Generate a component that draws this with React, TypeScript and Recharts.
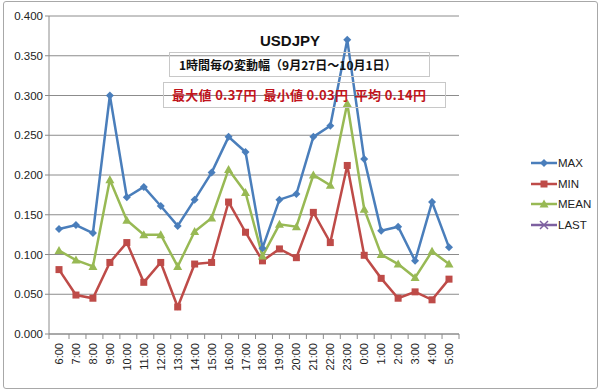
import { LineChart, Line, XAxis, YAxis, CartesianGrid, Legend } from "recharts";

const hours = [
  "6:00", "7:00", "8:00", "9:00", "10:00", "11:00", "12:00", "13:00", "14:00", "15:00", "16:00", "17:00",
  "18:00", "19:00", "20:00", "21:00", "22:00", "23:00", "0:00", "1:00", "2:00", "3:00", "4:00", "5:00",
];
const maxVals = [0.132, 0.137, 0.127, 0.3, 0.172, 0.185, 0.161, 0.136, 0.169, 0.203, 0.248, 0.229,
  0.108, 0.169, 0.176, 0.248, 0.262, 0.37, 0.22, 0.13, 0.135, 0.092, 0.166, 0.109];
const minVals = [0.081, 0.049, 0.045, 0.09, 0.115, 0.065, 0.09, 0.034, 0.088, 0.09, 0.166, 0.128,
  0.092, 0.107, 0.096, 0.153, 0.115, 0.212, 0.099, 0.07, 0.045, 0.053, 0.043, 0.069];
const meanVals = [0.105, 0.093, 0.085, 0.194, 0.143, 0.125, 0.125, 0.085, 0.129, 0.146, 0.207, 0.178,
  0.098, 0.138, 0.135, 0.2, 0.187, 0.29, 0.157, 0.1, 0.088, 0.071, 0.104, 0.088];
const yTicks = [0, 0.05, 0.1, 0.15, 0.2, 0.25, 0.3, 0.35, 0.4];

const data = hours.map((h, i) => ({
  hour: h,
  MAX: maxVals[i],
  MIN: minVals[i],
  MEAN: meanVals[i],
  LAST: null as number | null,
}));

const BLUE = "#4a7ebb";
const RED = "#be4b48";
const GREEN = "#98b954";
const PURPLE = "#7d60a0";
const GRID = "#8c8c8c";
const FONT = "'Liberation Sans', Arial, sans-serif";
const JP = "'Noto Sans CJK JP', sans-serif";

function Diamond({ cx, cy, c }: any) {
  if (cx == null || cy == null) return null;
  return <path d={`M${cx},${cy - 4} L${cx + 4},${cy} L${cx},${cy + 4} L${cx - 4},${cy} Z`} fill={c} />;
}
function Square({ cx, cy, c }: any) {
  if (cx == null || cy == null) return null;
  return <rect x={cx - 3.5} y={cy - 3.5} width={7} height={7} fill={c} />;
}
function Tri({ cx, cy, c }: any) {
  if (cx == null || cy == null) return null;
  return <path d={`M${cx},${cy - 4.5} L${cx + 4.5},${cy + 3.5} L${cx - 4.5},${cy + 3.5} Z`} fill={c} />;
}
function Cross({ cx, cy, c }: any) {
  if (cx == null || cy == null) return null;
  return (
    <path d={`M${cx - 4},${cy - 4} L${cx + 4},${cy + 4} M${cx + 4},${cy - 4} L${cx - 4},${cy + 4}`} stroke={c} strokeWidth={1.5} />
  );
}

const legendItems = [
  { name: "MAX", c: BLUE, M: Diamond },
  { name: "MIN", c: RED, M: Square },
  { name: "MEAN", c: GREEN, M: Tri },
  { name: "LAST", c: PURPLE, M: Cross },
];

function LegendBox() {
  return (
    <div>
      {legendItems.map(({ name, c, M }) => (
        <div key={name} style={{ display: "flex", alignItems: "center", height: 20.5 }}>
          <svg width={26} height={12}>
            <line x1={0} y1={6} x2={26} y2={6} stroke={c} strokeWidth={2.5} />
            <M cx={13} cy={6} c={c} />
          </svg>
          <span style={{ fontFamily: FONT, fontSize: 11.5, color: "#222", marginLeft: 1 }}>{name}</span>
        </div>
      ))}
    </div>
  );
}

function HourTick({ x, y, payload, index }: any) {
  return (
    <g>
      <line x1={x + 10} y1={y - 8} x2={x + 10} y2={y - 3} stroke={GRID} />
      {index === 0 && <line x1={x - 10} y1={y - 8} x2={x - 10} y2={y - 3} stroke={GRID} />}
      <text
        x={x}
        y={y}
        transform={`rotate(-90 ${x} ${y})`}
        textAnchor="end"
        dx={-1}
        dy={4}
        fontSize={11}
        fontFamily={FONT}
        fill="#222"
      >
        {payload.value}
      </text>
    </g>
  );
}

export default function App() {
  return (
    <div style={{ position: "fixed", left: 0, top: 0, width: 600, height: 391, background: "#fff" }}>
      <div
        style={{
          position: "absolute", left: 3, top: 1, width: 593, height: 386,
          border: "1px solid #a8a8a8", borderRadius: 3,
        }}
      />
      <LineChart width={600} height={391} data={data} margin={{ top: 16, right: 71, left: 0, bottom: 0 }}>
        <CartesianGrid vertical={false} stroke={GRID} strokeDasharray="" />
        <XAxis
          dataKey="hour"
          interval={0}
          padding={{ left: 10, right: 10 }}
          height={57}
          tickLine={false}
          axisLine={{ stroke: GRID }}
          tick={<HourTick />}
        />
        <YAxis
          width={49}
          domain={[0, 0.4]}
          ticks={yTicks}
          tickFormatter={(v: number) => v.toFixed(3)}
          tick={{ fontSize: 11.5, fontFamily: FONT, fill: "#222" }}
          tickLine={{ stroke: GRID }}
          tickSize={4}
          axisLine={{ stroke: GRID }}
        />
        <Legend
          layout="vertical"
          align="right"
          verticalAlign="top"
          wrapperStyle={{ left: 531, top: 153, width: 70 }}
          content={() => <LegendBox />}
        />
        <Line dataKey="MAX" stroke={BLUE} strokeWidth={2.5} dot={<Diamond c={BLUE} />} isAnimationActive={false} />
        <Line dataKey="MIN" stroke={RED} strokeWidth={2.5} dot={<Square c={RED} />} isAnimationActive={false} />
        <Line dataKey="MEAN" stroke={GREEN} strokeWidth={2.5} dot={<Tri c={GREEN} />} isAnimationActive={false} />
        <Line dataKey="LAST" stroke={PURPLE} strokeWidth={2.5} dot={<Cross c={PURPLE} />} isAnimationActive={false} />
      </LineChart>
      <div
        style={{
          position: "absolute", left: 0, top: 32, width: 580, textAlign: "center",
          fontFamily: FONT, fontWeight: "bold", fontSize: 15, color: "#111",
        }}
      >
        USDJPY
      </div>
      <div
        style={{
          position: "absolute", left: 169, top: 52, width: 261, height: 25, boxSizing: "border-box",
          border: "1px solid #c8c8c8", fontFamily: JP, fontWeight: "bold", fontSize: 12,
          color: "#111", lineHeight: "23px", paddingLeft: 9,
        }}
      >
        1時間毎の変動幅（9月27日～10月1日）
      </div>
      <div
        style={{
          position: "absolute", left: 163, top: 82, width: 283, height: 26, boxSizing: "border-box",
          border: "1px solid #c8c8c8", fontFamily: JP, fontWeight: "bold", fontSize: 13,
          letterSpacing: 0.3, color: "#c0141c", lineHeight: "24px", paddingLeft: 8, whiteSpace: "pre",
        }}
      >
        {"最大値 0.37円  最小値 0.03円  平均 0.14円"}
      </div>
    </div>
  );
}
